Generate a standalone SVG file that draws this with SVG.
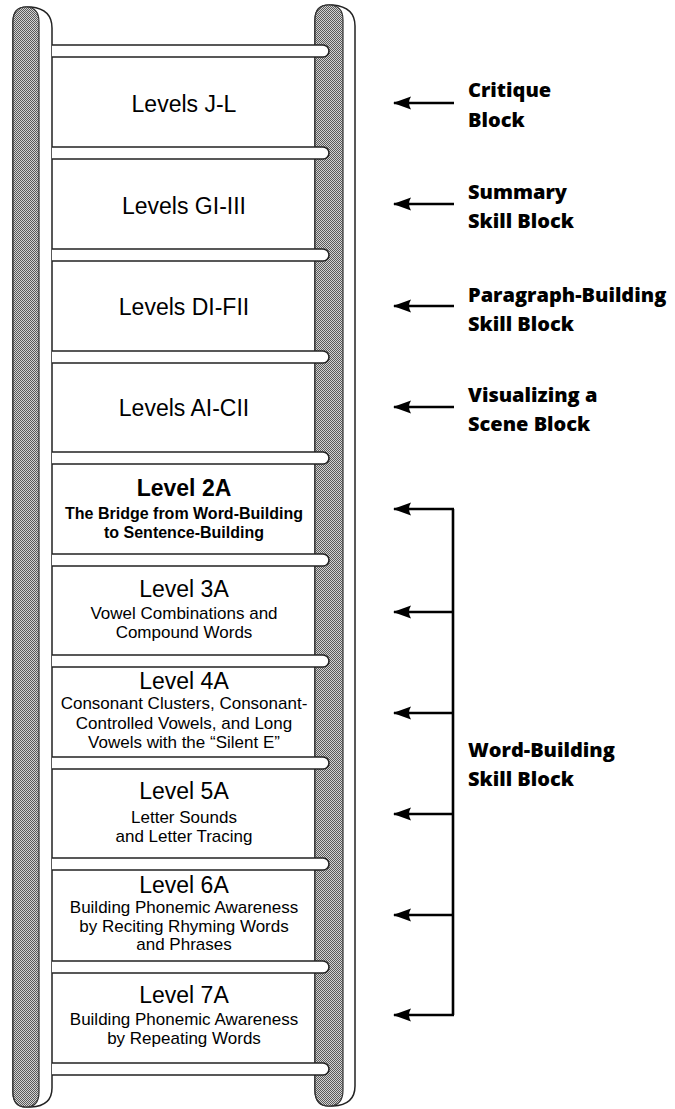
<svg xmlns="http://www.w3.org/2000/svg" width="675" height="1109" viewBox="0 0 675 1109">
<defs>
<pattern id="stip" width="2" height="2" patternUnits="userSpaceOnUse">
<rect width="2" height="2" fill="#d2d2d2"/>
<rect x="0" y="0" width="1" height="1" fill="#5a5a5a"/>
<rect x="1" y="1" width="1" height="1" fill="#5a5a5a"/>
</pattern>
<marker id="ah" markerUnits="userSpaceOnUse" markerWidth="20" markerHeight="16" refX="19" refY="8" orient="auto" viewBox="0 0 20 16">
<path d="M20,8 L2,1.5 Q6,8 2,14.5 Z" fill="#000"/>
</marker>
</defs>
<style>
.rail{fill:#fff;stroke:#222;stroke-width:1.5}
.shade{fill:url(#stip);stroke:#333;stroke-width:1.2}
.rung{fill:#fff;stroke:#222;stroke-width:1.6}
.h{font-family:"Liberation Sans",Arial,sans-serif;font-size:23px;fill:#000;text-anchor:middle}
.s{font-family:"Liberation Sans",Arial,sans-serif;font-size:17px;fill:#000;text-anchor:middle}
.hb{font-family:"Liberation Sans",Arial,sans-serif;font-size:23px;font-weight:bold;fill:#000;text-anchor:middle}
.sb{font-family:"Liberation Sans",Arial,sans-serif;font-size:16px;font-weight:bold;fill:#000;text-anchor:middle}
.lab{font-family:"Open Sans",Lato,sans-serif;font-size:20px;font-weight:800;fill:#000}
.con{fill:none;stroke:#000;stroke-width:2.6}
</style>

<g id="ladder">
<path class="rail" d="M13,1092 L13,22 Q13,7 27,7 L31,7 Q52,9 52,28 L52,1088 Q52,1106 31,1107 L27,1107 Q13,1107 13,1092 Z"/>
<path class="shade" d="M13,1092 L13,22 Q13,7 26,7 Q39,7 39,22 L39,1092 Q39,1107 26,1107 Q13,1107 13,1092 Z"/>
<path class="rail" d="M315,1090 L315,20 Q315,5 329,5 L333,5 Q355,7 355,26 L355,1086 Q355,1105 333,1106 L329,1106 Q315,1106 315,1090 Z"/>
<path class="shade" d="M315,1090 L315,20 Q315,5 329,5 Q343,5 343,20 L343,1090 Q343,1106 329,1106 Q315,1106 315,1090 Z"/>
<g id="rungs">
<path class="rung" d="M52,45 L323,45 A6,6 0 0 1 323,57 L52,57"/>
<path class="rung" d="M52,147 L323,147 A6,6 0 0 1 323,159 L52,159"/>
<path class="rung" d="M52,249 L323,249 A6,6 0 0 1 323,261 L52,261"/>
<path class="rung" d="M52,351 L323,351 A6,6 0 0 1 323,363 L52,363"/>
<path class="rung" d="M52,452 L323,452 A6,6 0 0 1 323,464 L52,464"/>
<path class="rung" d="M52,554 L323,554 A6,6 0 0 1 323,566 L52,566"/>
<path class="rung" d="M52,655 L323,655 A6,6 0 0 1 323,667 L52,667"/>
<path class="rung" d="M52,757 L323,757 A6,6 0 0 1 323,769 L52,769"/>
<path class="rung" d="M52,858 L323,858 A6,6 0 0 1 323,870 L52,870"/>
<path class="rung" d="M52,961 L323,961 A6,6 0 0 1 323,973 L52,973"/>
<path class="rung" d="M52,1063 L323,1063 A6,6 0 0 1 323,1075 L52,1075"/>
</g>
</g>

<g id="levels-jl"><text class="h" x="184" y="112">Levels J-L</text></g>
<g id="levels-gi-iii"><text class="h" x="184" y="214">Levels GI-III</text></g>
<g id="levels-di-fii"><text class="h" x="184" y="315">Levels DI-FII</text></g>
<g id="levels-ai-cii"><text class="h" x="184" y="416">Levels AI-CII</text></g>
<g id="level-2a">
<text class="hb" x="184" y="496">Level 2A</text>
<text class="sb" x="184" y="519">The Bridge from Word-Building</text>
<text class="sb" x="184" y="538">to Sentence-Building</text>
</g>
<g id="level-3a">
<text class="h" x="184" y="597">Level 3A</text>
<text class="s" x="184" y="619">Vowel Combinations and</text>
<text class="s" x="184" y="638">Compound Words</text>
</g>
<g id="level-4a">
<text class="h" x="184" y="689">Level 4A</text>
<text class="s" x="184" y="709">Consonant Clusters, Consonant-</text>
<text class="s" x="184" y="729">Controlled Vowels, and Long</text>
<text class="s" x="184" y="748">Vowels with the “Silent E”</text>
</g>
<g id="level-5a">
<text class="h" x="184" y="799">Level 5A</text>
<text class="s" x="184" y="823">Letter Sounds</text>
<text class="s" x="184" y="842">and Letter Tracing</text>
</g>
<g id="level-6a">
<text class="h" x="184" y="893">Level 6A</text>
<text class="s" x="184" y="913">Building Phonemic Awareness</text>
<text class="s" x="184" y="932">by Reciting Rhyming Words</text>
<text class="s" x="184" y="950">and Phrases</text>
</g>
<g id="level-7a">
<text class="h" x="184" y="1003">Level 7A</text>
<text class="s" x="184" y="1025">Building Phonemic Awareness</text>
<text class="s" x="184" y="1044">by Repeating Words</text>
</g>

<g id="label-critique"><text class="lab" x="468" y="97">Critique</text><text class="lab" x="468" y="127">Block</text></g>
<g id="label-summary"><text class="lab" x="468" y="199">Summary</text><text class="lab" x="468" y="228">Skill Block</text></g>
<g id="label-paragraph"><text class="lab" x="468" y="302">Paragraph-Building</text><text class="lab" x="468" y="331">Skill Block</text></g>
<g id="label-visualizing"><text class="lab" x="468" y="402">Visualizing a</text><text class="lab" x="468" y="431">Scene Block</text></g>
<g id="label-word-building"><text class="lab" x="468" y="757">Word-Building</text><text class="lab" x="468" y="786">Skill Block</text></g>

<g id="connectors">
<line class="con" x1="454" y1="103" x2="394" y2="103" marker-end="url(#ah)"/>
<line class="con" x1="454" y1="204" x2="394" y2="204" marker-end="url(#ah)"/>
<line class="con" x1="454" y1="306" x2="394" y2="306" marker-end="url(#ah)"/>
<line class="con" x1="454" y1="407" x2="394" y2="407" marker-end="url(#ah)"/>
<path class="con" d="M453,509 L453,1015"/>
<line class="con" x1="454" y1="509" x2="394" y2="509" marker-end="url(#ah)"/>
<line class="con" x1="454" y1="612" x2="394" y2="612" marker-end="url(#ah)"/>
<line class="con" x1="454" y1="713" x2="394" y2="713" marker-end="url(#ah)"/>
<line class="con" x1="454" y1="814" x2="394" y2="814" marker-end="url(#ah)"/>
<line class="con" x1="454" y1="915" x2="394" y2="915" marker-end="url(#ah)"/>
<line class="con" x1="454" y1="1015" x2="394" y2="1015" marker-end="url(#ah)"/>
</g>
</svg>
